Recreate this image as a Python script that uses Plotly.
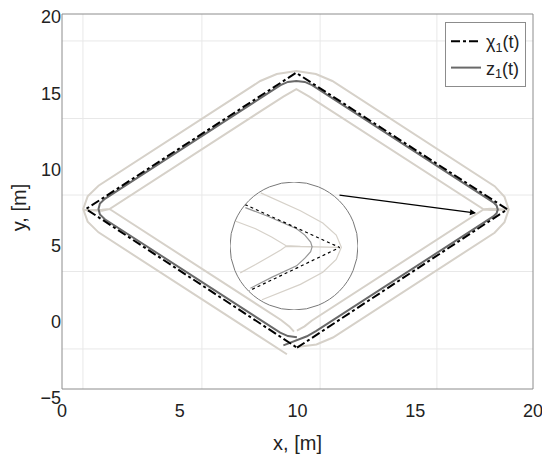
import plotly.graph_objects as go

# reference trajectory chi_1(t): corner points of the diamond
chi_x = [9.98, 18.91, 9.94, 1.02, 9.98]
chi_y = [-1.70, 7.38, 16.34, 7.40, -1.70]

# agent trajectory z_1(t)
z_x = [9.40, 9.95, 10.40, 10.80, 17.50, 18.315, 18.455, 18.505, 18.455, 18.315,
       10.62, 10.31, 9.95, 9.59, 9.28, 1.82, 1.61, 1.55, 1.61, 1.82,
       9.265, 9.595, 9.975]
z_y = [-1.55, -1.22, -0.95, -0.60, 6.10, 6.915, 7.125, 7.375, 7.625, 7.835,
       15.53, 15.74, 15.80, 15.74, 15.53, 8.07, 7.76, 7.40, 7.04, 6.73,
       -0.715, -0.935, -1.01]

# outer corridor bound
outer_x = [9.975, 10.805, 11.505, 18.37, 18.79, 18.97, 18.79, 18.37, 11.48, 10.78,
           9.95, 9.12, 8.42, 1.55, 1.09, 0.90, 1.09, 1.55, 9.55]
outer_y = [-1.66, -1.49, -1.03, 5.84, 6.54, 7.37, 8.20, 8.90, 15.80, 16.26,
           16.46, 16.26, 15.80, 8.93, 8.23, 7.40, 6.57, 5.87, -2.13]

# inner corridor bound (with the small tails at the side corners)
inner_x = [9.975, 10.30, 10.60, 17.90, 18.20, 18.95, 18.20, 17.90, 10.50, 10.15,
           9.95, 9.75, 9.40, 2.02, 1.70, 0.92, 1.70, 2.02, 9.30, 9.65, 9.85]
inner_y = [-0.58, -0.30, 0.07, 7.37, 7.33, 7.36, 7.41, 7.38, 14.78, 15.08,
           15.26, 15.08, 14.78, 7.40, 7.36, 7.33, 7.28, 7.40, 0.12, -0.30, -0.65]

# magnified view of the right corner (inset, unit-circle coordinates)
ins_chi_u = [-0.766, 0.714, -0.699]
ins_chi_v = [0.647, -0.023, -0.699]
ins_z_u = [-0.76, -0.40, 0.04, 0.17, 0.26, 0.283, 0.26, 0.17, 0.04, -0.35, -0.68]
ins_z_v = [0.60, 0.46, 0.27, 0.17, 0.06, -0.013, -0.09, -0.19, -0.31, -0.49, -0.66]
ins_outer_u = [-0.52, 0.10, 0.45, 0.66, 0.74, 0.66, 0.45, 0.10, -0.50]
ins_outer_v = [0.83, 0.55, 0.36, 0.17, -0.02, -0.21, -0.41, -0.60, -0.84]
ins_inner_u = [-0.92, -0.60, -0.35, -0.20, -0.13, 0.10, 0.70, 0.10, -0.13, -0.20, -0.35, -0.60, -0.84]
ins_inner_v = [0.39, 0.27, 0.14, 0.05, 0.008, -0.005, -0.02, -0.01, -0.008, -0.06, -0.15, -0.29, -0.42]

grid_x = [0.89, 5.94, 10.96, 15.92]
grid_y = [18.43, 13.34, 8.32, 3.30, -1.78]

light = "rgb(214,209,201)"
font = "Liberation Sans, Arial, sans-serif"

# plot area in window pixels (the page body adds 8 px on the left and top)
PX0, PX1, PY_TOP, PY_BOT = 62, 533, 17, 398
W = PX1 - PX0
H = PY_BOT - PY_TOP


def px(p):
    return (p - PX0) / W


def py(p):
    return (PY_BOT - p) / H


fig = go.Figure()
for xs, ys in [(outer_x, outer_y), (inner_x, inner_y)]:
    fig.add_trace(go.Scatter(x=xs, y=ys, mode="lines", line=dict(color=light, width=2),
                             showlegend=False, hoverinfo="skip"))
fig.add_trace(go.Scatter(x=z_x, y=z_y, mode="lines", name="z<sub>1</sub>(t)", legendrank=2,
                         line=dict(color="rgb(105,105,105)", width=2)))
fig.add_trace(go.Scatter(x=chi_x, y=chi_y, mode="lines", name="χ<sub>1</sub>(t)", legendrank=1,
                         line=dict(color="black", width=2, dash="dashdot")))

# inset traces
for xs, ys, col, dash in [(ins_outer_u, ins_outer_v, light, "solid"),
                          (ins_inner_u, ins_inner_v, light, "solid"),
                          (ins_z_u, ins_z_v, "rgb(150,150,150)", "solid"),
                          (ins_chi_u, ins_chi_v, "black", "dot")]:
    fig.add_trace(go.Scatter(x=xs, y=ys, xaxis="x2", yaxis="y2", mode="lines",
                             line=dict(color=col, width=1.2, dash=dash),
                             showlegend=False, hoverinfo="skip"))

box_bottom = py(389)
box_top = py(14)
shapes = []
for gx in grid_x:
    shapes.append(dict(type="line", xref="x", yref="paper", x0=gx, x1=gx, y0=box_bottom, y1=box_top,
                       line=dict(color="rgb(232,232,232)", width=1), layer="below"))
for gy in grid_y:
    shapes.append(dict(type="line", xref="paper", yref="y", x0=0, x1=1, y0=gy, y1=gy,
                       line=dict(color="rgb(232,232,232)", width=1), layer="below"))
shapes.append(dict(type="rect", xref="paper", yref="paper", x0=0, x1=1, y0=box_bottom, y1=box_top,
                   line=dict(color="rgb(140,140,140)", width=1)))
shapes.append(dict(type="circle", xref="x2", yref="y2", x0=-1, x1=1, y0=-1, y1=1,
                   line=dict(color="rgb(120,120,120)", width=1)))

fig.update_layout(
    width=550, height=467,
    margin=dict(l=PX0 - 8, r=550 - PX1 + 8, t=PY_TOP - 8, b=467 - PY_BOT + 8),
    paper_bgcolor="white", plot_bgcolor="rgba(0,0,0,0)",
    font=dict(family=font, size=18, color="#222"),
    xaxis=dict(range=[0, 20], tickvals=[0, 5, 10, 15, 20], showgrid=False, zeroline=False,
               showline=False, ticks="", automargin=False, ticklabeloverflow="allow",
               title=dict(text="x, [m]", font=dict(size=20))),
    yaxis=dict(range=[-5, 20], tickvals=[-5, 0, 5, 10, 15, 20], showgrid=False, zeroline=False,
               showline=False, ticks="", automargin=False, ticklabeloverflow="allow",
               title=dict(text="y, [m]", font=dict(size=20))),
    xaxis2=dict(domain=[px(230), px(358)], range=[-1, 1], anchor="y2", visible=False),
    yaxis2=dict(domain=[py(310), py(182)], range=[-1, 1], anchor="x2", visible=False),
    legend=dict(x=px(526), xanchor="right", y=py(22), yanchor="top",
                bgcolor="white", bordercolor="rgb(140,140,140)", borderwidth=1,
                font=dict(size=18), tracegroupgap=0),
    shapes=shapes,
    annotations=[dict(x=px(476), y=py(213), xref="paper", yref="paper",
                      ax=-138, ay=-18, showarrow=True, arrowhead=2, arrowsize=1,
                      arrowwidth=1.2, arrowcolor="black", text="")],
)

fig.write_html("out.html")
